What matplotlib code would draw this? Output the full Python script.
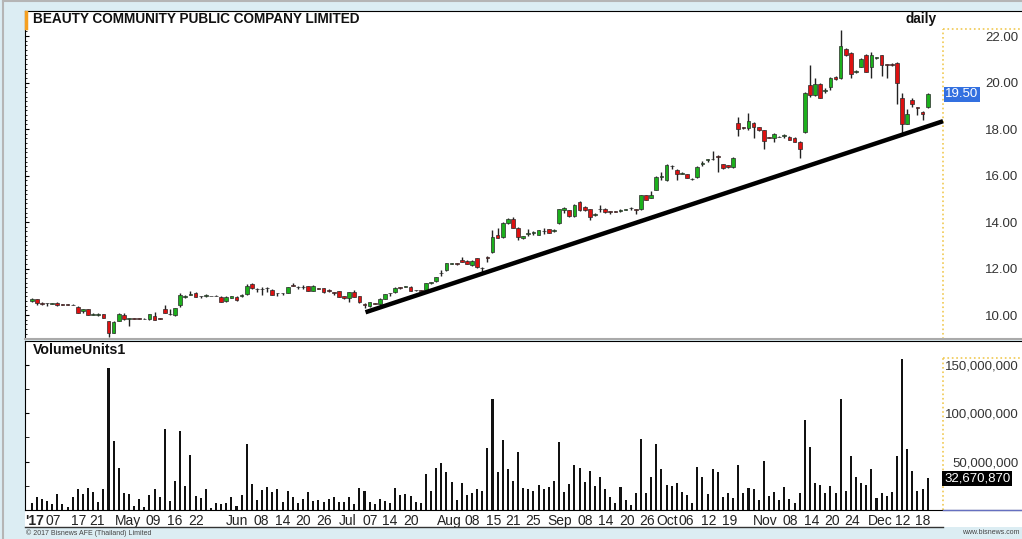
import numpy as np
import matplotlib
matplotlib.use('Agg')
import matplotlib.pyplot as plt
from matplotlib.patches import Rectangle
from matplotlib.lines import Line2D
from matplotlib.ticker import FuncFormatter, MultipleLocator

plt.rcParams['font.family'] = ['Liberation Sans', 'DejaVu Sans']

title = 'BEAUTY COMMUNITY PUBLIC COMPANY LIMITED'

# daily OHLC, one value per trading day (Apr - Dec 2017)
opens = [10.60, 10.68, 10.50, 10.50, 10.48, 10.52, 10.45, 10.45, 10.45, 10.35,
         10.18, 10.25, 10.00, 10.02, 10.05, 9.74, 9.24, 9.76, 10.00, 9.84,
         9.85, 9.85, 9.82, 9.82, 9.98, 9.86, 10.28, 10.04, 10.00, 10.45,
         10.78, 10.88, 10.95, 10.82, 10.84, 10.83, 10.84, 10.78, 10.60, 10.74,
         10.78, 10.80, 10.90, 11.33, 11.12, 11.10, 11.15, 11.08, 10.95, 10.95,
         10.95, 11.30, 11.22, 11.20, 11.25, 11.05, 11.16, 11.15, 11.05, 10.98,
         11.02, 10.82, 10.72, 11.00, 10.82, 10.45, 10.38, 10.52, 10.47, 10.70,
         10.94, 10.98, 11.20, 11.21, 11.22, 11.07, 11.06, 11.06, 11.40, 11.45,
         11.80, 11.92, 12.20, 12.22, 12.38, 12.34, 12.15, 12.45, 12.04, 12.50,
         12.70, 13.45, 13.35, 13.95, 14.15, 13.75, 13.30, 13.50, 13.55, 13.45,
         13.60, 13.70, 13.60, 13.95, 14.50, 14.50, 14.25, 14.85, 14.65, 14.55,
         14.30, 14.55, 14.58, 14.46, 14.46, 14.49, 14.54, 14.61, 14.56, 14.55,
         15.15, 15.05, 15.40, 15.95, 15.80, 16.42, 16.25, 16.08, 16.05, 15.84,
         15.92, 16.48, 16.68, 16.70, 16.85, 16.48, 16.45, 16.35, 18.25, 18.07,
         18.03, 18.27, 18.07, 17.94, 17.64, 17.60, 17.68, 17.72, 17.68, 17.62,
         17.45, 17.89, 19.89, 19.46, 19.96, 19.65, 19.79, 20.26, 20.18, 21.43,
         21.28, 20.45, 20.68, 21.18, 20.68, 21.05, 21.18, 20.80, 20.78, 20.85,
         19.35, 18.22, 19.25, 18.93, 18.74, 18.96]
highs = [10.75, 10.70, 10.55, 10.52, 10.52, 10.55, 10.46, 10.46, 10.46, 10.37,
         10.26, 10.27, 10.07, 10.08, 10.06, 9.76, 9.74, 10.08, 10.08, 9.86,
         9.86, 9.86, 9.86, 10.06, 10.12, 9.87, 10.42, 10.25, 10.32, 10.97,
         10.88, 11.05, 10.98, 10.84, 10.92, 10.84, 10.85, 10.80, 10.82, 10.82,
         10.80, 10.92, 11.32, 11.40, 11.16, 11.20, 11.22, 11.10, 10.97, 10.97,
         11.22, 11.38, 11.24, 11.28, 11.27, 11.28, 11.17, 11.17, 11.12, 11.00,
         11.05, 10.84, 11.00, 11.08, 10.84, 10.52, 10.58, 10.54, 10.72, 10.92,
         10.96, 11.20, 11.22, 11.24, 11.24, 11.09, 11.07, 11.40, 11.42, 11.65,
         11.92, 12.24, 12.25, 12.24, 12.48, 12.36, 12.36, 12.47, 12.06, 12.52,
         13.65, 13.75, 14.00, 14.18, 14.22, 13.77, 13.42, 13.72, 13.62, 13.68,
         13.75, 13.72, 13.70, 14.58, 14.65, 14.52, 14.78, 14.90, 14.67, 14.57,
         14.37, 14.72, 14.60, 14.48, 14.47, 14.58, 14.56, 14.63, 14.58, 15.18,
         15.18, 15.35, 15.98, 16.15, 16.50, 16.44, 16.27, 16.14, 16.08, 15.90,
         16.40, 16.62, 16.72, 17.05, 16.88, 16.50, 16.47, 16.78, 18.50, 18.10,
         18.70, 18.30, 18.10, 17.96, 17.66, 17.82, 17.70, 17.80, 17.72, 17.64,
         17.47, 19.60, 20.75, 20.20, 19.98, 19.75, 20.22, 20.30, 22.26, 21.50,
         21.30, 20.55, 21.05, 21.22, 21.30, 21.12, 21.20, 20.82, 20.84, 20.87,
         19.55, 18.85, 19.35, 18.95, 18.76, 19.55]
lows = [10.58, 10.45, 10.42, 10.40, 10.46, 10.38, 10.44, 10.44, 10.43, 10.08,
        10.10, 10.00, 10.00, 9.98, 9.86, 9.05, 9.22, 9.75, 9.80, 9.55,
        9.83, 9.83, 9.81, 9.80, 9.79, 9.84, 10.08, 10.02, 9.98, 10.35,
        10.74, 10.87, 10.76, 10.72, 10.78, 10.81, 10.80, 10.57, 10.55, 10.72,
        10.62, 10.78, 10.88, 11.14, 10.98, 10.85, 11.00, 10.85, 10.80, 10.85,
        10.93, 11.24, 11.12, 11.12, 11.03, 11.03, 11.13, 10.96, 10.98, 10.88,
        10.76, 10.70, 10.55, 10.77, 10.50, 10.32, 10.36, 10.47, 10.45, 10.68,
        10.84, 10.96, 11.12, 11.19, 11.04, 11.05, 11.03, 11.04, 11.32, 11.43,
        11.68, 11.90, 12.18, 12.14, 12.28, 12.18, 12.13, 12.03, 11.82, 12.28,
        12.68, 13.30, 13.33, 13.93, 13.73, 13.22, 13.28, 13.42, 13.45, 13.43,
        13.48, 13.53, 13.58, 13.92, 14.40, 14.23, 14.23, 14.48, 14.48, 14.10,
        14.25, 14.45, 14.40, 14.36, 14.42, 14.45, 14.52, 14.52, 14.35, 14.53,
        14.93, 15.03, 15.38, 15.82, 15.78, 16.30, 15.80, 16.06, 15.88, 15.82,
        15.90, 16.42, 16.58, 16.68, 16.16, 16.28, 16.33, 16.33, 17.70, 18.02,
        17.95, 17.60, 17.93, 17.14, 17.60, 17.45, 17.64, 17.60, 17.52, 17.43,
        16.76, 17.85, 19.40, 19.44, 19.33, 19.55, 19.70, 20.13, 20.16, 21.15,
        20.18, 20.40, 20.65, 20.44, 20.20, 21.00, 20.30, 20.20, 20.70, 19.10,
        17.83, 18.20, 18.95, 18.60, 18.40, 18.90]
closes = [10.70, 10.50, 10.48, 10.50, 10.51, 10.42, 10.44, 10.44, 10.43, 10.10,
          10.24, 10.02, 10.03, 10.02, 9.88, 9.24, 9.72, 10.05, 9.82, 9.84,
          9.84, 9.84, 9.83, 10.05, 9.80, 9.85, 10.10, 10.05, 10.30, 10.88,
          10.83, 10.88, 10.78, 10.82, 10.85, 10.82, 10.81, 10.58, 10.78, 10.80,
          10.64, 10.87, 11.27, 11.15, 11.10, 11.10, 11.15, 10.87, 10.95, 10.95,
          11.20, 11.26, 11.20, 11.20, 11.05, 11.26, 11.14, 10.98, 11.04, 10.97,
          10.78, 10.75, 10.98, 10.78, 10.55, 10.44, 10.55, 10.49, 10.70, 10.90,
          10.94, 11.18, 11.18, 11.23, 11.05, 11.06, 11.04, 11.38, 11.40, 11.62,
          11.80, 12.22, 12.23, 12.21, 12.30, 12.20, 12.34, 12.05, 12.02, 12.46,
          13.35, 13.33, 13.95, 14.15, 13.75, 13.35, 13.40, 13.50, 13.55, 13.65,
          13.60, 13.55, 13.68, 14.55, 14.60, 14.25, 14.75, 14.50, 14.50, 14.20,
          14.35, 14.55, 14.42, 14.45, 14.44, 14.51, 14.55, 14.59, 14.54, 15.15,
          14.95, 15.15, 15.95, 15.95, 16.45, 16.40, 16.05, 16.12, 15.90, 15.86,
          16.35, 16.55, 16.71, 16.73, 16.82, 16.31, 16.35, 16.74, 17.99, 18.05,
          18.36, 18.07, 17.95, 17.50, 17.62, 17.78, 17.66, 17.74, 17.54, 17.45,
          17.16, 19.56, 19.46, 19.96, 19.35, 19.68, 20.18, 20.15, 21.57, 21.18,
          20.37, 20.50, 21.00, 20.46, 21.18, 21.10, 20.77, 20.77, 20.77, 19.99,
          18.22, 18.67, 19.10, 18.90, 18.67, 19.50]

# volume in millions of shares
volume_m = [6.9, 13.8, 11.0, 9.7, 6.2, 16.2, 6.2, 3.4, 13.8, 21.7,
            16.5, 22.4, 18.6, 8.6, 22.0, 146.5, 71.4, 43.1, 17.9, 16.2,
            4.5, 11.0, 3.4, 15.5, 21.4, 13.8, 83.4, 9.7, 30.3, 82.0,
            25.2, 56.5, 14.8, 12.8, 21.4, 2.4, 6.9, 6.2, 7.6, 13.8,
            4.1, 15.2, 68.0, 26.6, 10.3, 20.7, 23.4, 18.6, 22.0, 7.9,
            19.7, 13.8, 7.6, 11.7, 19.0, 9.7, 10.3, 8.6, 11.7, 13.1,
            8.6, 8.6, 13.8, 6.2, 22.4, 20.0, 8.6, 6.2, 11.0, 9.7,
            6.9, 22.4, 15.5, 16.2, 14.5, 8.6, 7.6, 37.2, 19.7, 43.1,
            48.3, 39.6, 29.3, 10.3, 27.6, 15.5, 17.2, 22.0, 20.0, 64.5,
            114.5, 39.6, 72.4, 42.1, 30.0, 59.7, 22.4, 21.7, 20.0, 26.2,
            21.4, 23.4, 29.6, 70.7, 18.3, 26.9, 46.2, 43.8, 28.6, 40.7,
            24.8, 34.5, 21.7, 13.1, 6.9, 24.1, 10.3, 5.5, 17.9, 73.1,
            17.9, 33.8, 68.3, 42.8, 26.2, 24.8, 28.3, 18.6, 15.5, 7.6,
            44.8, 33.8, 16.5, 42.8, 39.6, 13.1, 17.2, 12.4, 46.2, 17.9,
            22.4, 21.4, 10.7, 50.3, 14.5, 18.3, 10.3, 23.4, 11.0, 7.6,
            17.9, 93.1, 64.8, 27.6, 25.5, 17.9, 25.2, 17.9, 114.8, 20.0,
            55.8, 33.8, 27.6, 25.5, 42.1, 12.1, 17.9, 14.8, 19.0, 55.8,
            156.2, 63.4, 40.7, 19.7, 21.7, 32.67087]

# x axis labels at trading-day index
tick_pos = [0.6, 4.2, 9.1, 12.8, 18.9, 23.8, 28, 32.1, 40, 44.8, 49, 53, 57.1,
            61.8, 66.1, 70, 74, 81.6, 86.1, 90.2, 94.1, 98, 103.2, 108.1, 112.2,
            116.2, 120.1, 124.1, 127.9, 132.2, 136.3, 143.2, 148.1, 152.3,
            156.3, 160.2, 165.7, 170.2, 174]
tick_labels = ["'17", '07', '17', '21', 'May', '09', '16', '22', 'Jun', '08',
               '14', '20', '26', 'Jul', '07', '14', '20', 'Aug', '08', '15',
               '21', '25', 'Sep', '08', '14', '20', '26', 'Oct', '06', '12',
               '19', 'Nov', '08', '14', '20', '24', 'Dec', '12', '18']

price_ticks = [10, 12, 14, 16, 18, 20, 22]
volume_ticks = [50e6, 100e6, 150e6]

# support line drawn on the chart (index, price)
trend_x = [65.2, 178.0]
trend_y = [10.12, 18.34]

o = np.array(opens)
h = np.array(highs)
l = np.array(lows)
c = np.array(closes)
vol = np.array(volume_m) * 1e6
x = np.arange(len(c))

W, H = 1022, 539
bg = '#dcedf3'


def fx(px):
    return px / W


def fy(py):
    return 1 - py / H


fig = plt.figure(figsize=(W / 100, H / 100), dpi=100, facecolor=bg)

xl, xr = -1.31, 193.42
sep_x = 177.93
yellow = '#f0c850'
lab_size = 9.5

# ---- price panel
ax = fig.add_axes([fx(25), fy(339), fx(1022) - fx(25), fy(11) - fy(339)])
ax.set_xlim(xl, xr)
ax.set_ylim(8.97, 23.08)

up = c >= o
ax.vlines(x, l, h, color='#222222', lw=1, zorder=2)
body_h = np.maximum(np.abs(c - o), 0.02)
ax.bar(x, body_h, bottom=np.minimum(o, c), width=0.72,
       color=np.where(up, '#1cb01c', '#dd1111'),
       edgecolor='#2a2a2a', linewidth=0.5, zorder=3)
ax.plot(trend_x, trend_y, color='black', lw=3.2, solid_capstyle='butt', zorder=4)

ax.set_yticks(price_ticks)
ax.yaxis.set_major_formatter(FuncFormatter(lambda v, p: f'{v:.2f}'))
ax.yaxis.set_minor_locator(MultipleLocator(0.2))
ax.tick_params(axis='y', which='both', left=True, right=False,
               labelleft=False, labelright=True, direction='in')
ax.tick_params(axis='y', which='major', length=3, pad=-2.5, labelsize=lab_size,
               labelcolor='#333333')
ax.tick_params(axis='y', which='minor', length=1.5)
for t in ax.get_yticklabels():
    t.set_horizontalalignment('right')
ax.tick_params(axis='x', bottom=False, labelbottom=False)
ax.spines['right'].set_visible(False)
ax.spines['bottom'].set_color('#aaaaaa')
ax.spines['bottom'].set_linewidth(1.5)

ax.axvline(sep_x, ymax=(339 - 29) / (339 - 11), color=yellow, ls=':', lw=1.2)
ax.axhline(22.30, xmin=(sep_x - xl) / (xr - xl), color=yellow, ls=':', lw=1.2)
ax.text(sep_x + 0.5, c[-1], f'{c[-1]:.2f}', color='white', fontsize=lab_size,
        va='center', ha='left', zorder=6,
        bbox=dict(boxstyle='square,pad=0.12', fc='#3370e0', ec='none'))

# ---- volume panel
ax2 = fig.add_axes([fx(25), fy(510), fx(1022) - fx(25), fy(341) - fy(510)])
ax2.set_xlim(xl, xr)
ax2.set_ylim(0, 174.8e6)
ax2.bar(x, vol, width=0.4, color='#111111', zorder=2)

ax2.set_yticks(volume_ticks)
ax2.yaxis.set_major_formatter(FuncFormatter(lambda v, p: f'{v:,.0f}'))
ax2.yaxis.set_minor_locator(MultipleLocator(25e6))
ax2.tick_params(axis='y', which='both', left=True, right=False,
                labelleft=False, labelright=True, direction='in')
ax2.tick_params(axis='y', which='major', length=3, pad=-2.5, labelsize=lab_size,
                labelcolor='#333333')
ax2.tick_params(axis='y', which='minor', length=3)
for t in ax2.get_yticklabels():
    t.set_horizontalalignment('right')
ax2.set_xticks(tick_pos)
ax2.set_xticklabels(tick_labels)
ax2.tick_params(axis='x', length=0, pad=3, labelsize=10, labelcolor='#222222')
ax2.get_xticklabels()[0].set_fontweight('bold')
ax2.spines['right'].set_visible(False)

ax2.axvline(sep_x, ymax=157.2 / 174.8, color=yellow, ls=':', lw=1.2)
ax2.axhline(157.2e6, xmin=(sep_x - xl) / (xr - xl), color=yellow, ls=':', lw=1.2)
ax2.text(sep_x + 0.25, vol[-1], f'{int(round(vol[-1])):,}', color='white',
         fontsize=lab_size, va='center', ha='left', zorder=6,
         bbox=dict(boxstyle='square,pad=0.12', fc='black', ec='none'))

# ---- frame, date band and texts
fig.add_artist(Rectangle((fx(25), fy(527)), fx(1022) - fx(25), fy(510) - fy(527),
                         transform=fig.transFigure, fc='white', ec='none', zorder=-1))
fig.add_artist(Line2D([fx(25), fx(943)], [fy(527), fy(527)], color='#333333', lw=1))
fig.add_artist(Line2D([fx(943), fx(1022)], [fy(510), fy(510)], color='#6670c0', lw=1))
fig.add_artist(Line2D([fx(3), fx(3)], [0, fy(1)], color='#b5b5b5', lw=1.5))
fig.add_artist(Line2D([fx(3), 1], [fy(1), fy(1)], color='#b5b5b5', lw=1.5))
fig.add_artist(Line2D([fx(25.5), fx(25.5)], [fy(12), fy(28)], color='#f5a020', lw=2.5))

fig.text(fx(33), fy(19), title, fontsize=9.8, fontweight='bold', color='#111111',
         ha='left', va='center')
fig.text(fx(937), fy(19), 'daily', fontsize=9.8, fontweight='bold', color='#111111',
         ha='right', va='center')
fig.text(fx(33), fy(350), 'VolumeUnits1', fontsize=10.2, fontweight='bold', color='#111111',
         ha='left', va='center')
fig.text(fx(26), fy(533), '\u00a9 2017 Bisnews AFE (Thailand) Limited', fontsize=5,
         color='#444444', ha='left', va='center')
fig.text(fx(1020), fy(533), 'www.bisnews.com', fontsize=5, color='#444444',
         ha='right', va='center')

fig.savefig('out.png', dpi=100, facecolor=fig.get_facecolor())
